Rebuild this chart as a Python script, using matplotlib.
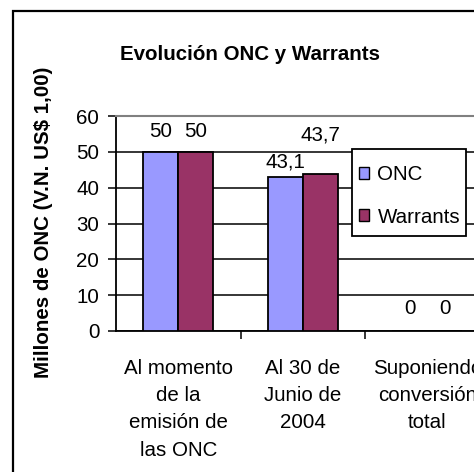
import matplotlib.pyplot as plt
import numpy as np
from matplotlib.patches import Rectangle, Patch

plt.rcParams['font.family'] = ['Liberation Sans', 'DejaVu Sans']

categories = ['Al momento\nde la\nemisión de\nlas ONC', 'Al 30 de\nJunio de\n2004', 'Suponiendo\nconversión\ntotal']
onc = [50, 43.1, 0]
warrants = [50, 43.7, 0]
# vertical offset (pixels) of the data labels above each bar, as Excel placed them
onc_label_off = [20, 15, 23]
war_label_off = [20, 39, 23]

fs = 14.8
fig = plt.figure(figsize=(4.74, 4.72), dpi=100)
ax = fig.add_axes([116/474, 1 - 331/472, 3*124.5/474, 215/472])

x = np.arange(len(categories))
w = 0.28
ax.bar(x - w/2, onc, w, color='#9999FF', edgecolor='black', linewidth=1.3, label='ONC', zorder=3)
ax.bar(x + w/2, warrants, w, color='#993366', edgecolor='black', linewidth=1.3, label='Warrants', zorder=3)

def fmt(v):
    return f'{v:g}'.replace('.', ',')

for xi, v, off in zip(x - w/2, onc, onc_label_off):
    ax.annotate(fmt(v), (xi, v), xytext=(0, off), textcoords='offset pixels',
                ha='center', va='center', fontsize=fs)
for xi, v, off in zip(x + w/2, warrants, war_label_off):
    ax.annotate(fmt(v), (xi, v), xytext=(0, off), textcoords='offset pixels',
                ha='center', va='center', fontsize=fs)

ax.set_xlim(-0.5, 2.5)
ax.set_ylim(0, 60)
ax.set_yticks(range(0, 61, 10))
ax.yaxis.grid(True, color='black', linewidth=1.1)
ax.set_axisbelow(True)
ax.set_xticks(x)
ax.set_xticklabels(categories, fontsize=fs, linespacing=1.55)
ax.set_xticks([0.5, 1.5], minor=True)
ax.tick_params(axis='x', which='major', length=0, pad=20)
ax.tick_params(axis='x', which='minor', length=6, width=1.1, direction='out')
ax.tick_params(axis='y', length=6, width=1.1, pad=6, labelsize=fs)
ax.spines['top'].set_color('#808080')
ax.spines['top'].set_linewidth(1.5)
ax.spines['right'].set_visible(False)
for s in ['left', 'bottom']:
    ax.spines[s].set_linewidth(1.3)

ax.set_ylabel('Millones de ONC (V.N. US$ 1,00)', fontsize=fs, fontweight='bold')
ax.yaxis.set_label_coords(53/474, 1 - 222/472, transform=fig.transFigure)

fig.text(250/474, 1 - 55/472, 'Evolución ONC y Warrants', ha='center', va='center',
         fontsize=fs, fontweight='bold')

# legend box drawn separately so its padding can match the original
fig.patches.append(Rectangle((352/474, 1 - 236/472), 114/474, 87/472, transform=fig.transFigure,
                             facecolor='white', edgecolor='black', linewidth=1.3, zorder=5))
leg = fig.legend(handles=[Patch(facecolor='#9999FF', edgecolor='black', label='ONC'),
                          Patch(facecolor='#993366', edgecolor='black', label='Warrants')],
                 loc='upper left', bbox_to_anchor=(359/474, 1 - 165/472), borderaxespad=0,
                 fontsize=fs, handlelength=0.5, handleheight=0.5, handletextpad=0.4,
                 labelspacing=1.15, borderpad=0, frameon=False)
leg.set_zorder(6)

fig.patches.append(Rectangle((13/474, -0.1), 1.2, 1.1 - 11/472, transform=fig.transFigure,
                             fill=False, edgecolor='black', linewidth=1.6))

fig.savefig('out.png', dpi=100)
